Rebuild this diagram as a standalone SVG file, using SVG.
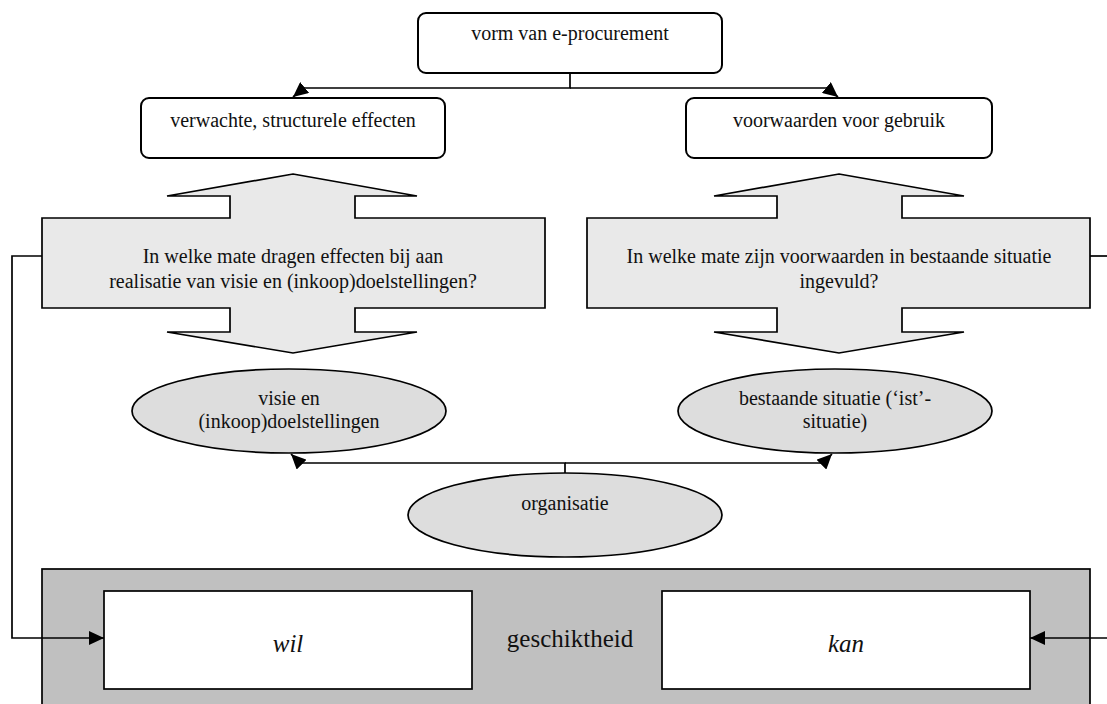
<svg xmlns="http://www.w3.org/2000/svg" width="1107" height="704" viewBox="0 0 1107 704">
  <defs>
    <marker id="ah" viewBox="0 0 15 14" refX="15" refY="7" markerWidth="15" markerHeight="14" markerUnits="userSpaceOnUse" orient="auto">
      <path d="M0,0 L15,7 L0,14 Z" fill="#000"/>
    </marker>
    <style>
      text { font-family: 'Liberation Serif', 'DejaVu Serif', serif; fill: #111; text-anchor: middle; }
      .t { font-size: 20px; }
      .big { font-size: 25px; }
      .it { font-style: italic; }
      .box { fill: #fff; stroke: #000; stroke-width: 2; }
      .dbl { fill: #e9e9e9; stroke: #000; stroke-width: 1.7; }
      .ell { fill: #dddddd; stroke: #000; stroke-width: 1.7; }
      .band { fill: #c0c0c0; stroke: #000; stroke-width: 1.7; }
      .inner { fill: #fff; stroke: #000; stroke-width: 1.7; }
      .conn { fill: none; stroke: #000; stroke-width: 1.7; }
    </style>
  </defs>

  <rect width="1107" height="704" fill="#fff"/>

  <!-- bottom band with the two capability boxes -->
  <g id="geschiktheid">
    <rect class="band" x="42" y="569" width="1048" height="145"/>
    <text class="big" x="570" y="647">geschiktheid</text>
  </g>
  <g id="wil">
    <rect class="inner" x="104" y="591" width="368" height="98"/>
    <text class="big it" x="288" y="652">wil</text>
  </g>
  <g id="kan">
    <rect class="inner" x="662" y="591" width="368" height="98"/>
    <text class="big it" x="846" y="652">kan</text>
  </g>

  <!-- top level -->
  <g id="vorm">
    <rect class="box" x="418" y="13" width="304" height="60" rx="8"/>
    <text class="t" x="570" y="40">vorm van e-procurement</text>
  </g>
  <g id="effecten">
    <rect class="box" x="141" y="98" width="304" height="60" rx="8"/>
    <text class="t" x="293" y="127">verwachte, structurele effecten</text>
  </g>
  <g id="voorwaarden">
    <rect class="box" x="686" y="98" width="306" height="60" rx="8"/>
    <text class="t" x="839" y="127">voorwaarden voor gebruik</text>
  </g>

  <!-- double-headed question arrows -->
  <g id="vraag-effecten">
    <polygon class="dbl" points="293,174 417,196 355,196 355,218 545,218 545,308 355,308 355,332 417,332 293,353 167,332 230,332 230,308 42,308 42,218 230,218 230,196 167,196"/>
    <text class="t" x="293" y="263">In welke mate dragen effecten bij aan</text>
    <text class="t" x="293" y="288">realisatie van visie en (inkoop)doelstellingen?</text>
  </g>
  <g id="vraag-voorwaarden">
    <polygon class="dbl" points="839,174 964,196 902,196 902,218 1090,218 1090,308 902,308 902,332 964,332 839,353 714,332 777,332 777,308 587,308 587,218 777,218 777,196 714,196"/>
    <text class="t" x="839" y="263">In welke mate zijn voorwaarden in bestaande situatie</text>
    <text class="t" x="839" y="288">ingevuld?</text>
  </g>

  <!-- ellipses -->
  <g id="visie">
    <ellipse class="ell" cx="289" cy="411" rx="157" ry="42"/>
    <text class="t" x="289" y="405">visie en</text>
    <text class="t" x="289" y="428">(inkoop)doelstellingen</text>
  </g>
  <g id="ist">
    <ellipse class="ell" cx="835" cy="411" rx="157" ry="42"/>
    <text class="t" x="835" y="405">bestaande situatie (‘ist’-</text>
    <text class="t" x="835" y="428">situatie)</text>
  </g>
  <g id="organisatie">
    <ellipse class="ell" cx="565" cy="515" rx="157" ry="42"/>
    <text class="t" x="565" y="510">organisatie</text>
  </g>

  <!-- connectors -->
  <g id="connectors">
    <path class="conn" d="M570,73 V88 H304 L293,97" marker-end="url(#ah)"/>
    <path class="conn" d="M570,88 H827 L838,97" marker-end="url(#ah)"/>
    <path class="conn" d="M565,473 V463 H300 L291,454" marker-end="url(#ah)"/>
    <path class="conn" d="M565,463 H823 L832,454" marker-end="url(#ah)"/>
    <path class="conn" d="M42,256 H12 V638 H104" marker-end="url(#ah)"/>
    <path class="conn" d="M1090,256 H1112"/>
    <path class="conn" d="M1112,638 H1030" marker-end="url(#ah)"/>
  </g>
</svg>
